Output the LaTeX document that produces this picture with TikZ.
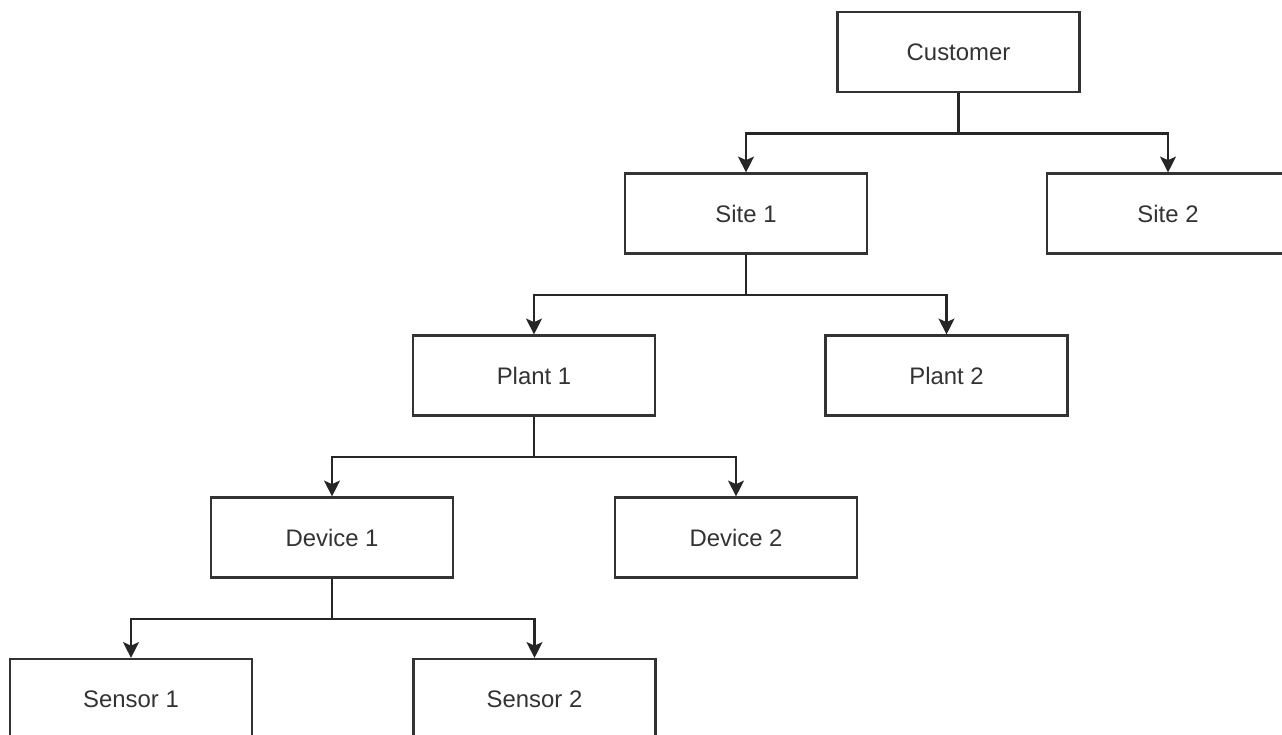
\documentclass[tikz,border=0pt]{standalone}
\usepackage{fontspec}
\setmainfont{Liberation Sans}
\usepackage{tikz}
\usetikzlibrary{arrows.meta,positioning}

\begin{document}
\begin{tikzpicture}[
  orgbox/.style={draw=black!80,line width=1.2pt,minimum width=4.84cm,minimum height=1.6cm,
    inner sep=0pt,text=black!80,font=\fontsize{13.6}{16}\selectfont},
  orglink/.style={draw=black!85,line width=1.2pt,-{Stealth[length=9pt,width=9pt,inset=2pt]}}
]
  \useasboundingbox (0,0) rectangle (25.64,-14.7);
  % Top level
  \node[orgbox] (cust) at (19.17,-1.04) {Customer};
  % Sites
  \node[orgbox] (site1) at (14.92,-4.27) {Site 1};
  \node[orgbox] (site2) at (23.36,-4.27) {Site 2};
  % Plants
  \node[orgbox] (plant1) at (10.68,-7.51) {Plant 1};
  \node[orgbox] (plant2) at (18.93,-7.51) {Plant 2};
  % Devices
  \node[orgbox] (dev1) at (6.64,-10.75) {Device 1};
  \node[orgbox] (dev2) at (14.72,-10.75) {Device 2};
  % Sensors
  \node[orgbox] (sens1) at (2.62,-13.98) {Sensor 1};
  \node[orgbox] (sens2) at (10.69,-13.98) {Sensor 2};
  % Links
  \foreach \pa/\ch in {cust/site1,cust/site2,site1/plant1,site1/plant2,
      plant1/dev1,plant1/dev2,dev1/sens1,dev1/sens2}
    \draw[orglink] (\pa.south) -- ++(0,-0.81) -| (\ch.north);
\end{tikzpicture}
\end{document}
